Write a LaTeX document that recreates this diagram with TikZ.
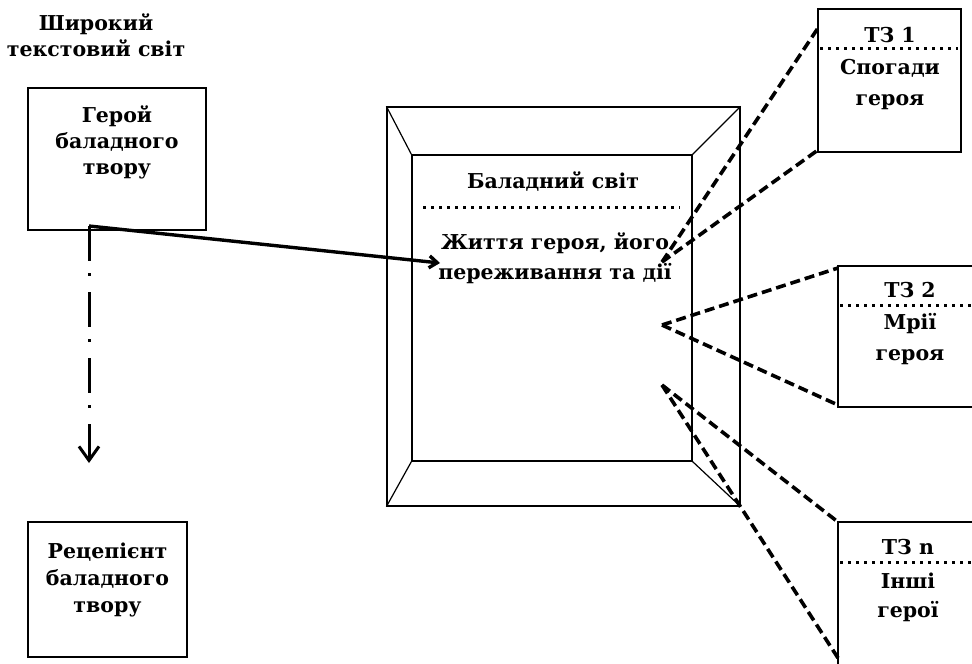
\documentclass[tikz,border=0pt]{standalone}
\usepackage{fontspec}
\setmainfont{DejaVu Serif}
\usetikzlibrary{arrows.meta}

\begin{document}
\begin{tikzpicture}[x=1pt, y=-1pt,
    box/.style={draw=black, line width=1.3pt, inner sep=0pt},
    txt/.style={align=center, font=\bfseries\fontsize{20.5}{26}\selectfont, inner sep=0pt},
    sight/.style={line width=3.6pt, dash pattern=on 10pt off 5pt},
    sep/.style={line width=3pt, dash pattern=on 3pt off 5pt},
    frame/.style={line width=1.2pt}]
    \useasboundingbox (0,0) rectangle (972,664);
    % Wide text world
    \node[txt] (title) at (96,35) {Широкий\\текстовий світ};
    \node[box, minimum width=178pt, minimum height=142pt] (hero) at (117,159) {};
    \node[txt] (hero-text) at (117,142) {Герой\\баладного\\твору};
    \node[box, minimum width=159pt, minimum height=135pt] (reader) at (107.5,589.5) {};
    \node[txt, font=\bfseries\fontsize{20.5}{27}\selectfont] (reader-text) at (107.5,580) {Рецепієнт\\баладного\\твору};
    % Ballad world frame
    \node[frame, draw, inner sep=0pt, minimum width=353pt, minimum height=399pt] (outer) at (563.5,306.5) {};
    \node[frame, draw, inner sep=0pt, minimum width=280pt, minimum height=306pt] (inner) at (552,308) {};
    \foreach \c in {north west, north east, south east, south west} \draw[frame] (outer.\c) -- (inner.\c);
    \node[txt] (ballad) at (553,182) {Баладний світ};
    \draw[sep] (423,207) -- (680,207);
    \node[txt, font=\bfseries\fontsize{20.5}{30}\selectfont] (life) at (555,258) {Життя героя, його\\переживання та дії};
    % Points of view
    \foreach \m/\x/\y/\w/\h in {1/889.5/80.5/143/143, 2/914/336.5/152/141, n/914/597/152/150}
        \node[box, minimum width=\w pt, minimum height=\h pt] (tz-\m) at (\x,\y) {};
    \node[txt] (tz-1-title) at (890,35) {ТЗ 1};
    \draw[sep] (820,48) -- (958,48);
    \node[txt, font=\bfseries\fontsize{20.5}{31}\selectfont] (tz-1-text) at (890,85) {Спогади\\героя};
    \node[txt] (tz-2-title) at (910,290) {ТЗ 2};
    \draw[sep] (840,305) -- (972,305);
    \node[txt, font=\bfseries\fontsize{20.5}{31}\selectfont] (tz-2-text) at (910,339) {Мрії\\героя};
    \node[txt] (tz-n-title) at (908,547) {ТЗ n};
    \draw[sep] (840,562) -- (972,562);
    \node[txt, font=\bfseries\fontsize{20.5}{29}\selectfont] (tz-n-text) at (908,597) {Інші\\герої};
    % Sight lines
    \foreach \n/\x/\y in {v1/662/262, v2/662/325, v3/662/385, e1/818/28, e2/818/150, e3/838/268, e4/838/405, e5/838/522, e6/838/658}
        \coordinate (\n) at (\x,\y);
    \foreach \v/\e in {v1/e1, v1/e2, v2/e3, v2/e4, v3/e5, v3/e6} \draw[sight] (\v) -- (\e);
    % Hero arrows
    \coordinate (split) at (89,226);
    \coordinate (arrive) at (440,263);
    \coordinate (down) at (89,463);
    \draw[line width=3.4pt, -{Straight Barb[length=8pt, width=12pt]}] (split) -- (arrive);
    \draw[line width=3pt, dash pattern=on 35pt off 12pt on 3pt off 16pt, -{Straight Barb[length=14pt, width=20pt]}] (split) -- (down);
\end{tikzpicture}
\end{document}
